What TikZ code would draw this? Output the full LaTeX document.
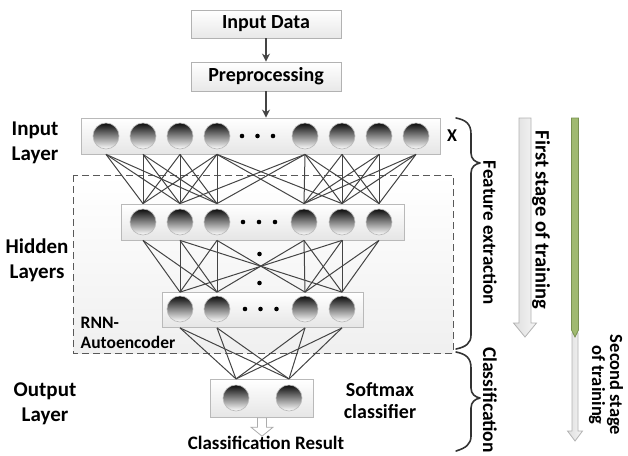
\documentclass[tikz,border=0pt]{standalone}
\usepackage{fontspec}
\setmainfont{Carlito}
\usetikzlibrary{calc,arrows.meta}
\definecolor{linec}{RGB}{68,68,68}
\definecolor{greenbar}{RGB}{160,186,112}
\definecolor{greenedge}{RGB}{120,145,80}
\begin{document}
\begin{tikzpicture}[x=1pt,y=-1pt,
  font=\bfseries\fontsize{20}{25}\selectfont,
  neuron/.style={circle, minimum size=26pt, inner sep=0pt, draw=gray!55, line width=0.6pt, top color=black!95, bottom color=white},
  layerbox/.style={rectangle, draw=gray!55, line width=0.8pt, top color=white, bottom color=gray!20, inner sep=0pt},
  stepbox/.style={rectangle, draw=gray!60, line width=0.8pt, top color=white, bottom color=gray!18, minimum width=150pt, inner sep=0pt},
  conn/.style={draw=linec, line width=1pt},
  ellip/.style={circle, fill=black, inner sep=0pt, minimum size=4.6pt},
  flow/.style={draw=linec, line width=1.4pt, -{Stealth[length=8pt,width=8pt]}},
  brace/.style={draw=black!80, line width=1.6pt, line cap=round, line join=round},
  label/.style={align=center, inner sep=0pt}
]
\useasboundingbox (0,0) rectangle (628,455);

% dashed RNN-Autoencoder region
\path[draw=black!65, line width=1pt, dash pattern=on 7pt off 4pt, top color=white, bottom color=gray!12] (73,175) rectangle (453,353);

% top boxes
\node[stepbox, minimum height=28pt] (data) at (266,24) {Input Data};
\node[stepbox, minimum height=29pt] (prep) at (266,76.5) {Preprocessing};

% layer boxes
\node[layerbox, minimum width=359pt, minimum height=36pt] (L0) at (260.5,136) {};
\node[layerbox, minimum width=283pt, minimum height=36pt] (L1) at (263.3,222) {};
\node[layerbox, minimum width=201pt, minimum height=35pt] (L2) at (263.3,310) {};
\node[layerbox, minimum width=103pt, minimum height=38pt] (L3) at (262,398.3) {};

% neurons
\foreach \n/\x in {1/106,2/143,3/180,4/217,5/305,6/342,7/379,8/416}
  \node[neuron] (i\n) at (\x,136) {};
\foreach \n/\x in {1/143,2/180,3/217,4/304,5/342,6/379}
  \node[neuron] (h\n) at (\x,222) {};
\foreach \n/\x in {1/180,2/217,3/305,4/342}
  \node[neuron] (g\n) at (\x,309) {};
\foreach \n/\x in {1/236,2/289}
  \node[neuron] (o\n) at (\x,398) {};

% horizontal ellipses
\foreach \x [count=\k] in {242,257.5,273} \node[ellip] (da\k) at (\x,136) {};
\foreach \x [count=\k] in {243,259,275} \node[ellip] (db\k) at (\x,222) {};
\foreach \x [count=\k] in {245,260.5,276.5} \node[ellip] (dc\k) at (\x,309) {};
% vertical ellipses
\node[ellip] (dv1) at (259.5,254) {};
\node[ellip] (dv2) at (259.5,283) {};

% connections input -> hidden 1
\foreach \a in {1,2,3,4} \foreach \b in {1,2,3}
  \draw[conn] (i\a |- L0.south) -- (h\b |- L1.north);
\foreach \a in {5,6,7,8} \foreach \b in {4,5,6}
  \draw[conn] (i\a |- L0.south) -- (h\b |- L1.north);
\foreach \a/\b in {4/4,4/5,5/3,5/2}
  \draw[conn] (i\a |- L0.south) -- (h\b |- L1.north);

% hidden 1 -> hidden 2
\foreach \a in {1,2,3} \foreach \b in {1,2}
  \draw[conn] (h\a |- L1.south) -- (g\b |- L2.north);
\foreach \a in {4,5,6} \foreach \b in {3,4}
  \draw[conn] (h\a |- L1.south) -- (g\b |- L2.north);
\foreach \a/\b in {2/4,3/3,4/2,5/1}
  \draw[conn] (h\a |- L1.south) -- (g\b |- L2.north);

% hidden 2 -> output
\foreach \a in {1,2,3,4} \foreach \b in {1,2}
  \draw[conn] (g\a |- L2.south) -- (o\b |- L3.north);

% flow arrows
\draw[flow] (data.south) -- (prep.north);
\draw[flow] (prep.south) -- (prep.south |- L0.north);

% texts
\node[label, font=\bfseries\fontsize{19}{23}\selectfont] (res) at (266,443) {Classification Result};
\draw[draw=gray!65, line width=0.8pt, fill=white]
  ($(L3.south)+(-4.5,0)$) -- ++(0,9.5) -- ++(-6.5,0) -- ($(L3.south)+(0,18.5)$)
  -- ($(L3.south)+(11,9.5)$) -- ++(-6.5,0) -- ($(L3.south)+(4.5,0)$) -- cycle;

\node[label, font=\bfseries\fontsize{21}{25}\selectfont] (inl) at (35,142.5) {Input\\Layer};
\node[label, font=\bfseries\fontsize{21}{25}\selectfont] (hidl) at (37,260) {Hidden\\Layers};
\node[label, font=\bfseries\fontsize{21}{25}\selectfont] (outl) at (45,404) {Output\\Layer};
\node[label, align=left, anchor=west, font=\bfseries\fontsize{17.5}{20}\selectfont] (rnn) at (80.5,333) {RNN-\\Autoencoder};
\node[label, font=\bfseries\fontsize{18}{20}\selectfont] (xl) at (452,136) {X};
\node[label, font=\bfseries\fontsize{20}{22}\selectfont] (soft) at (380,401) {Softmax\\classifier};

% braces
\draw[brace] (456,118) .. controls (466,120) and (471,124) .. (471,134)
  -- (471,153) .. controls (471,159) and (475,162) .. (480,163)
  .. controls (475,164) and (471,167) .. (471,173)
  -- (471,335) .. controls (471,343) and (466,347) .. (456,349);
\draw[brace] (456,352) .. controls (466,354) and (471,358) .. (471,368)
  -- (471,388) .. controls (471,394) and (475,397) .. (480,398)
  .. controls (475,399) and (471,402) .. (471,408)
  -- (471,436) .. controls (471,444) and (466,448) .. (456,451);

\node[label, rotate=-90, font=\bfseries\fontsize{19}{22}\selectfont] (fe) at (490,233) {Feature extraction};
\node[label, rotate=-90, font=\bfseries\fontsize{19.5}{22}\selectfont] (cl) at (490,400) {Classification};

% first stage arrow
\draw[draw=gray!60, line width=0.8pt, left color=gray!25, right color=gray!8]
  (519,118) -- (531,118) -- (531,323) -- (536.5,323) -- (525,337) -- (513.5,323) -- (519,323) -- cycle;
\node[label, rotate=-90, font=\bfseries\fontsize{20.5}{22}\selectfont] (fs) at (541,220) {First stage of training};

% second stage arrow
\draw[draw=gray!60, line width=0.8pt, left color=gray!25, right color=gray!8]
  (572,333) -- (578,333) -- (578,431) -- (582.5,431) -- (575,441) -- (567.5,431) -- (572,431) -- cycle;
\draw[draw=greenedge, line width=0.7pt, fill=greenbar]
  (571.5,118) -- (578.5,118) -- (578.5,330) -- (575,337) -- (571.5,330) -- cycle;
\node[label, rotate=-90, font=\bfseries\fontsize{18.5}{18}\selectfont] (ss) at (606,385) {Second stage\\of training};
\end{tikzpicture}
\end{document}
